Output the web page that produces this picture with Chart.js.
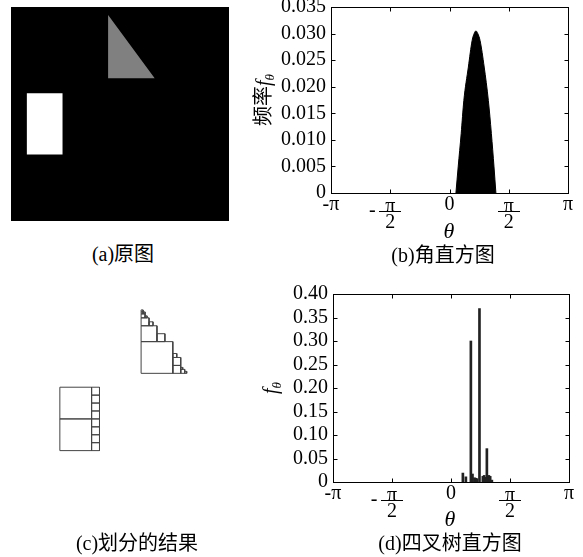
<!DOCTYPE html>
<html>
<head>
<meta charset="utf-8">
<script src="https://cdn.jsdelivr.net/npm/chart.js@4"></script>
<style>
  body { margin: 0; background: #fff; }
  #page { position: relative; width: 583px; height: 557px; overflow: hidden; font-family: "Liberation Serif", "Times New Roman", "DejaVu Serif", "Noto Sans CJK SC", serif; color: #000; }
  canvas { position: absolute; }
  .txt { position: absolute; white-space: nowrap; line-height: 1; transform: translate(-50%, -50%); font-size: 20px; }
  .rot { transform: translate(-50%, -50%) rotate(-90deg); }
  .it { font-style: italic; }
  sub { font-size: 13px; font-style: italic; vertical-align: -4px; line-height: 0; }
</style>
</head>
<body>
<div id="page">
  <canvas id="imgA" width="240" height="230" style="left:0;top:0"></canvas>
  <canvas id="histB" width="333" height="290" style="left:250px;top:-20px"></canvas>
  <canvas id="treeC" width="290" height="270" style="left:0;top:270px"></canvas>
  <canvas id="histD" width="333" height="287" style="left:250px;top:270px"></canvas>

  <div class="txt rot" style="left:263px;top:100px">频率<span class="it">f</span><sub>θ</sub></div>
  <div class="txt it" style="left:449px;top:231px;font-size:22px">θ</div>
  <div class="txt rot" style="left:270px;top:388px"><span class="it">f</span><sub>θ</sub></div>
  <div class="txt it" style="left:450px;top:519px;font-size:22px">θ</div>

  <div class="txt" style="left:123px;top:254px">(a)原图</div>
  <div class="txt" style="left:443px;top:255px">(b)角直方图</div>
  <div class="txt" style="left:137px;top:543px">(c)划分的结果</div>
  <div class="txt" style="left:450px;top:543px">(d)四叉树直方图</div>
</div>
<script>
const serif = '"Liberation Serif", "Times New Roman", "DejaVu Serif", serif';

// x ticks shared by both histograms
const xTickValues = [-Math.PI, -Math.PI / 2, 0, Math.PI / 2, Math.PI];
const xTickLabels = ['-π', '-π/2', '0', 'π/2', 'π'];

// (b) angle histogram
const angleTheta = [0.17, 0.23, 0.31, 0.38, 0.50, 0.60, 0.66, 0.70, 0.75, 0.81, 0.92, 1.03, 1.11, 1.18, 1.23];
const angleFreq = [0, 0.0049, 0.0112, 0.0174, 0.0237, 0.0287, 0.0301, 0.0305, 0.0300, 0.0287, 0.0237, 0.0174, 0.0112, 0.0049, 0];

// (d) quadtree histogram
const quadTheta = [0.316, 0.396, 0.529, 0.572, 0.625, 0.662, 0.689, 0.758, 0.848, 0.883, 0.918, 0.955, 1.008, 1.043, 1.088];
const quadFreq = [0.019, 0.011, 0.300, 0.017, 0.009, 0.008, 0.007, 0.369, 0.012, 0.014, 0.010, 0.071, 0.014, 0.012, 0.004];

// (a) source image, image units
const imgSquare = [[0, 0], [220, 0], [220, 216], [0, 216]];
const imgTriangle = [[98, 8], [98, 72], [145, 72]];
const imgRect = [[16, 87], [52, 87], [52, 149], [16, 149]];

// (c) quadtree cells [x, y, size]
const triCells = [
  [98, 40, 32], [98, 24, 16], [114, 32, 8], [98, 16, 8], [106, 20, 4],
  [98, 12, 4], [102, 14, 2], [98, 10, 2], [100, 10, 2], [98, 8, 2],
  [130, 56, 8], [130, 64, 8], [138, 68, 4], [142, 70, 2], [138, 66, 2], [130, 52, 4]
];
const rectCells = [
  [16, 86, 32], [16, 118, 32],
  [48, 86, 8], [48, 94, 8], [48, 102, 8], [48, 110, 8],
  [48, 118, 8], [48, 126, 8], [48, 134, 8], [48, 142, 8]
];

function poly(pts) {
  const d = pts.map(p => ({ x: p[0], y: p[1] }));
  d.push({ x: pts[0][0], y: pts[0][1] });
  return d;
}

function cellPath(cells) {
  const d = [];
  cells.forEach(([x, y, s]) => {
    d.push({ x: x, y: y }, { x: x + s, y: y }, { x: x + s, y: y + s }, { x: x, y: y + s }, { x: x, y: y }, { x: x, y: null });
  });
  return d;
}

const imgScales = {
  x: { type: 'linear', min: 0, max: 220, display: false },
  y: { type: 'linear', min: 0, max: 216, reverse: true, display: false }
};

const quiet = { legend: { display: false }, tooltip: { enabled: false } };

// MATLAB style box with inward ticks and fraction tick labels
const boxAxes = {
  id: 'boxAxes',
  afterDraw(chart) {
    const { ctx, chartArea: a } = chart;
    const xs = chart.scales.x, ys = chart.scales.y;
    const L = Math.round(a.left) + 0.5, R = Math.round(a.right) + 0.5;
    const T = Math.round(a.top) + 0.5, B = Math.round(a.bottom) + 0.5;
    ctx.save();
    ctx.strokeStyle = '#000';
    ctx.lineWidth = 1;
    ctx.strokeRect(L, T, R - L, B - T);
    ctx.beginPath();
    xTickValues.forEach(v => {
      const px = Math.round(xs.getPixelForValue(v)) + 0.5;
      ctx.moveTo(px, B); ctx.lineTo(px, B - 4);
      ctx.moveTo(px, T); ctx.lineTo(px, T + 4);
    });
    ys.ticks.forEach(t => {
      const py = Math.round(ys.getPixelForValue(t.value)) + 0.5;
      ctx.moveTo(L, py); ctx.lineTo(L + 4, py);
      ctx.moveTo(R, py); ctx.lineTo(R - 4, py);
    });
    ctx.stroke();

    ctx.fillStyle = '#000';
    ctx.font = '20px ' + serif;
    ctx.textAlign = 'center';
    ctx.textBaseline = 'middle';
    xTickValues.forEach((v, i) => {
      const px = xs.getPixelForValue(v);
      const lab = xTickLabels[i];
      const neg = lab.startsWith('-');
      const body = neg ? lab.slice(1) : lab;
      if (body.includes('/')) {
        const [num, den] = body.split('/');
        ctx.fillText(num, px, B + 13);
        ctx.fillRect(Math.round(px - 11), Math.round(B + 17), 22, 1);
        ctx.fillText(den, px, B + 29);
        if (neg) ctx.fillText('-', px - 18, B + 17);
      } else {
        ctx.fillText(lab, px, B + 11);
      }
    });
    ctx.restore();
  }
};

function histScales(maxY, step, digits, yWidth) {
  return {
    x: { type: 'linear', min: -Math.PI, max: Math.PI, display: false, offset: false },
    y: {
      min: 0, max: maxY,
      grid: { display: false, drawTicks: false },
      border: { display: false },
      ticks: {
        stepSize: step, padding: 5, color: '#000', autoSkip: false,
        font: { family: serif, size: 20 },
        callback: v => (Math.abs(v) < 1e-9 ? '0' : v.toFixed(digits))
      },
      afterFit: s => { s.width = yWidth; }
    }
  };
}

new Chart(document.getElementById('imgA'), {
  type: 'line',
  data: {
    datasets: [
      { data: poly(imgSquare), backgroundColor: '#000', borderColor: '#000', borderWidth: 0, fill: 'shape', pointRadius: 0, order: 2 },
      { data: poly(imgTriangle), backgroundColor: '#808080', borderColor: '#808080', borderWidth: 0, fill: 'shape', pointRadius: 0, order: 1 },
      { data: poly(imgRect), backgroundColor: '#fff', borderColor: '#fff', borderWidth: 0, fill: 'shape', pointRadius: 0, order: 1 }
    ]
  },
  options: {
    responsive: false, animation: false, events: [],
    layout: { padding: { left: 11, right: 11, top: 7, bottom: 9 } },
    scales: imgScales, plugins: quiet
  }
});

new Chart(document.getElementById('histB'), {
  type: 'line',
  data: {
    datasets: [{
      data: angleTheta.map((t, i) => ({ x: t, y: angleFreq[i] })),
      borderColor: '#000', backgroundColor: '#000', borderWidth: 1,
      fill: 'origin', pointRadius: 0, cubicInterpolationMode: 'monotone'
    }]
  },
  options: {
    responsive: false, animation: false, events: [],
    layout: { padding: { left: 0, right: 15, top: 27, bottom: 77 } },
    scales: histScales(0.035, 0.005, 3, 81),
    plugins: quiet
  },
  plugins: [boxAxes]
});

new Chart(document.getElementById('treeC'), {
  type: 'line',
  data: {
    datasets: [
      { data: cellPath(triCells), borderColor: '#444', borderWidth: 1, pointRadius: 0, spanGaps: false, fill: false },
      { data: cellPath(rectCells), borderColor: '#444', borderWidth: 1, pointRadius: 0, spanGaps: false, fill: false }
    ]
  },
  options: {
    responsive: false, animation: false, events: [],
    layout: { padding: { left: 44, right: 28, top: 32, bottom: 24 } },
    scales: imgScales, plugins: quiet
  }
});

new Chart(document.getElementById('histD'), {
  type: 'bar',
  data: {
    datasets: [{
      data: quadTheta.map((t, i) => ({ x: t, y: quadFreq[i] })),
      backgroundColor: '#222', barThickness: 2
    }]
  },
  options: {
    responsive: false, animation: false, events: [],
    layout: { padding: { left: 0, right: 14, top: 24, bottom: 75 } },
    scales: histScales(0.40, 0.05, 2, 83),
    plugins: quiet
  },
  plugins: [boxAxes]
});
</script>
</body>
</html>
